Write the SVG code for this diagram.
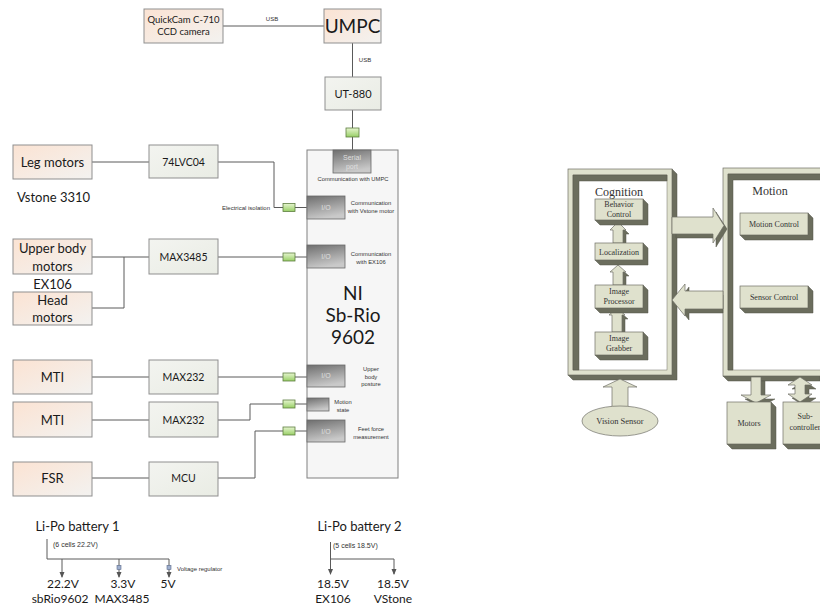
<svg xmlns="http://www.w3.org/2000/svg" width="820" height="607" viewBox="0 0 820 607">
<defs>
<linearGradient id="gPeach" x1="0" y1="0" x2="1" y2="1"><stop offset="0" stop-color="#fbe3d3"/><stop offset="1" stop-color="#f3f2f0"/></linearGradient>
<linearGradient id="gGray" x1="0" y1="0" x2="1" y2="1"><stop offset="0" stop-color="#f3f4f0"/><stop offset="1" stop-color="#e9ece4"/></linearGradient>
<linearGradient id="gGreen" x1="0" y1="0" x2="0" y2="1"><stop offset="0" stop-color="#e6f5cf"/><stop offset="1" stop-color="#98cf66"/></linearGradient>
<linearGradient id="gIO" x1="0" y1="0" x2="0.3" y2="1"><stop offset="0" stop-color="#6e6e6e"/><stop offset="1" stop-color="#c9c9c9"/></linearGradient>
<marker id="ah" viewBox="0 0 6 6" refX="5" refY="3" markerWidth="6" markerHeight="6" orient="auto"><path d="M0,0.5 L6,3 L0,5.5 z" fill="#555"/></marker>
</defs>
<style>
.ln{stroke:#5a5a5a;stroke-width:1;fill:none}
.peach{fill:url(#gPeach);stroke:#8f8f8f;stroke-width:1}
.gray{fill:url(#gGray);stroke:#8f8f8f;stroke-width:1}
.grn{fill:url(#gGreen);stroke:#5e7e40;stroke-width:0.8}
.io{fill:url(#gIO);stroke:#6a6a6a;stroke-width:0.8}
.t{font-family:Lato,"Liberation Sans",sans-serif;fill:#1a1a1a;text-anchor:middle}
.s{font-family:"Liberation Sans",Arial,sans-serif;fill:#333;text-anchor:middle}
.w{font-family:"Liberation Sans",Arial,sans-serif;fill:#dedede;text-anchor:middle;font-size:7px}
.r{font-family:"Liberation Serif","Times New Roman",serif;fill:#333;text-anchor:middle}
.lt{fill:#dfe1cd;stroke:#6f6f66;stroke-width:0.7}
.dk{fill:#6b6d5d;stroke:#55574a;stroke-width:0.5}
.sq{fill:#9fb0cf;stroke:#5a6a8a;stroke-width:0.6}
</style>

<!-- connectors -->
<g id="connectors">
<path class="ln" d="M223,26 H324"/>
<path class="ln" d="M352.5,43 V77"/>
<path class="ln" d="M352.5,110 V150"/>
<path class="ln" d="M92,162 H149"/>
<path class="ln" d="M218,162 H274 V207.5 H307"/>
<path class="ln" d="M92,257 H149"/>
<path class="ln" d="M92,308 H124 V257"/>
<path class="ln" d="M218,257 H307"/>
<path class="ln" d="M92,377 H149"/>
<path class="ln" d="M218,377 H307"/>
<path class="ln" d="M92,420 H149"/>
<path class="ln" d="M218,420 H250 V404 H307"/>
<path class="ln" d="M92,478 H149"/>
<path class="ln" d="M218,478 H255 V431 H307"/>
<!-- battery 1 -->
<path class="ln" d="M47,539 V559 H169"/>
<path class="ln" d="M62,559 V577" marker-end="url(#ah)"/>
<path class="ln" d="M119,559 V577" marker-end="url(#ah)"/>
<path class="ln" d="M169,559 V577" marker-end="url(#ah)"/>
<!-- battery 2 -->
<path class="ln" d="M330.5,542 V574" marker-end="url(#ah)"/>
<path class="ln" d="M330.5,559 H394 V574" marker-end="url(#ah)"/>
</g>

<text class="s" x="272" y="21" font-size="6">USB</text>
<text class="s" x="365" y="62" font-size="6">USB</text>

<g id="quickcam"><rect class="peach" x="144" y="9" width="79" height="34"/><text class="t" x="183.5" y="23" font-size="9.5">QuickCam C-710</text><text class="t" x="183.5" y="35" font-size="9.5">CCD camera</text></g>
<g id="umpc"><rect class="peach" x="324" y="9" width="57" height="34"/><text class="t" x="352.5" y="33" font-size="19">UMPC</text></g>
<g id="ut880"><rect class="gray" x="325" y="77" width="56" height="33"/><text class="t" x="353" y="98" font-size="11">UT-880</text></g>
<g id="iso0"><rect class="grn" x="346" y="128" width="13" height="9"/></g>

<g id="legmotors"><rect class="peach" x="13" y="145" width="79" height="34"/><text class="t" x="52.5" y="167" font-size="13">Leg motors</text></g>
<text class="t" x="53.5" y="202" font-size="13">Vstone 3310</text>
<g id="lvc"><rect class="gray" x="149" y="145" width="69" height="33"/><text class="t" x="183.5" y="165.5" font-size="10.5">74LVC04</text></g>

<g id="upperbody"><rect class="peach" x="13" y="239" width="79" height="35"/><text class="t" x="52.5" y="253" font-size="13">Upper body</text><text class="t" x="52.5" y="271" font-size="13">motors</text></g>
<text class="t" x="52.5" y="289" font-size="13">EX106</text>
<g id="headmotors"><rect class="peach" x="13" y="292" width="79" height="33"/><text class="t" x="52.5" y="305" font-size="13">Head</text><text class="t" x="52.5" y="322" font-size="13">motors</text></g>
<g id="max3485"><rect class="gray" x="149" y="239" width="69" height="35"/><text class="t" x="183.5" y="260.5" font-size="10.5">MAX3485</text></g>

<g id="mti1"><rect class="peach" x="13" y="360" width="79" height="34"/><text class="t" x="52.5" y="382" font-size="13">MTI</text></g>
<g id="max232a"><rect class="gray" x="149" y="360" width="69" height="34"/><text class="t" x="183.5" y="381" font-size="10.5">MAX232</text></g>
<g id="mti2"><rect class="peach" x="13" y="402" width="79" height="35"/><text class="t" x="52.5" y="425" font-size="13">MTI</text></g>
<g id="max232b"><rect class="gray" x="149" y="402" width="69" height="35"/><text class="t" x="183.5" y="424" font-size="10.5">MAX232</text></g>
<g id="fsr"><rect class="peach" x="13" y="462" width="79" height="34"/><text class="t" x="52.5" y="483" font-size="13">FSR</text></g>
<g id="mcu"><rect class="gray" x="149" y="462" width="69" height="34"/><text class="t" x="183.5" y="482" font-size="10.5">MCU</text></g>

<g id="iso"><rect class="grn" x="283" y="203.5" width="12" height="8"/><rect class="grn" x="283" y="253" width="12" height="8"/><rect class="grn" x="283" y="373" width="12" height="8"/><rect class="grn" x="283" y="400" width="12" height="8"/><rect class="grn" x="283" y="427" width="12" height="8"/></g>
<text class="s" x="270" y="209.5" font-size="6" style="text-anchor:end">Electrical isolation</text>

<g id="ni">
<rect x="307" y="150" width="91" height="328" fill="#f6f6f6" stroke="#808080" stroke-width="1"/>
<rect class="io" x="333" y="150" width="38" height="23"/><text class="w" x="352" y="160">Serial</text><text class="w" x="352" y="169">port</text>
<text class="s" x="353" y="181" font-size="5.8">Communication with UMPC</text>
<rect class="io" x="307" y="196" width="38" height="23"/><text class="w" x="326" y="210">I/O</text>
<text class="s" x="371" y="205" font-size="5.8">Communication</text><text class="s" x="371" y="213" font-size="5.8">with Vstone motor</text>
<rect class="io" x="307" y="245" width="38" height="23"/><text class="w" x="326" y="259">I/O</text>
<text class="s" x="371" y="256" font-size="5.8">Communication</text><text class="s" x="371" y="264" font-size="5.8">with EX106</text>
<text class="t" x="353" y="300" font-size="19">NI</text>
<text class="t" x="353" y="322" font-size="19">Sb-Rio</text>
<text class="t" x="353" y="344" font-size="19">9602</text>
<rect class="io" x="307" y="365" width="38" height="22"/><text class="w" x="326" y="378">I/O</text>
<text class="s" x="371" y="371" font-size="5.8">Upper</text><text class="s" x="371" y="378.5" font-size="5.8">body</text><text class="s" x="371" y="386" font-size="5.8">posture</text>
<rect class="io" x="307" y="398" width="22" height="13"/>
<text class="s" x="343" y="403.5" font-size="5.8">Motion</text><text class="s" x="343" y="411.5" font-size="5.8">state</text>
<rect class="io" x="307" y="420" width="38" height="22"/><text class="w" x="326" y="433.5">I/O</text>
<text class="s" x="371" y="431" font-size="5.8">Feet force</text><text class="s" x="371" y="439" font-size="5.8">measurement</text>
</g>

<!-- batteries -->
<g id="battery1">
<text class="t" x="77.5" y="531" font-size="13">Li-Po battery 1</text>
<text class="s" x="53" y="547" font-size="7" style="text-anchor:start">(6 cells 22.2V)</text>
<rect class="sq" x="117" y="565.5" width="4" height="4"/>
<rect class="sq" x="167" y="565.5" width="4" height="4"/>
<text class="s" x="177" y="571" font-size="6" style="text-anchor:start">Voltage regulator</text>
<text class="t" x="63" y="588" font-size="12">22.2V</text>
<text class="t" x="60" y="603" font-size="12">sbRio9602</text>
<text class="t" x="123" y="588" font-size="12">3.3V</text>
<text class="t" x="122" y="603" font-size="12">MAX3485</text>
<text class="t" x="168" y="588" font-size="12">5V</text>
</g>
<g id="battery2">
<text class="t" x="359.5" y="531" font-size="13">Li-Po battery 2</text>
<text class="s" x="333" y="548" font-size="7" style="text-anchor:start">(5 cells 18.5V)</text>
<text class="t" x="333" y="588" font-size="12">18.5V</text>
<text class="t" x="333" y="603" font-size="12">EX106</text>
<text class="t" x="393" y="588" font-size="12">18.5V</text>
<text class="t" x="393" y="603" font-size="12">VStone</text>
</g>

<!-- right diagram -->
<g id="cognition">
<polygon class="dk" points="672,169 677,174 677,380 573,380 568,375 672,375"/>
<rect class="lt" x="568" y="169" width="104" height="206"/>
<rect x="573" y="175" width="94" height="195" fill="#ffffff" stroke="#6f6f66" stroke-width="0.5"/>
<polygon class="dk" points="573,175 667,175 667,181 579,181 579,370 573,370"/>
<text class="r" x="619" y="195.5" font-size="12">Cognition</text>
</g>
<g id="motion">
<polygon class="dk" points="820,376 820,381 728,381 723,376"/>
<rect class="lt" x="723" y="168" width="100" height="208"/>
<rect x="728" y="174" width="95" height="196" fill="#ffffff" stroke="#6f6f66" stroke-width="0.5"/>
<polygon class="dk" points="728,174 823,174 823,180 733,180 733,370 728,370"/>
<text class="r" x="770" y="194.5" font-size="12">Motion</text>
</g>

<g id="arrows3d">
<polygon class="dk" points="621,226 629,234 626,234 626,247 616,247 616,234 613,234"/>
<polygon class="lt" points="618,222 626,230 623,230 623,243 613,243 613,230 610,230"/>
<polygon class="dk" points="621,269 629,276 626,276 626,289 616,289 616,276 613,276"/>
<polygon class="lt" points="618,265 626,272 623,272 623,285 613,285 613,272 610,272"/>
<polygon class="dk" points="620,312 628,319 625,319 625,336 615,336 615,319 612,319"/>
<polygon class="lt" points="617,308 625,315 622,315 622,332 612,332 612,315 609,315"/>
<polygon class="lt" points="620,379 637,387 628,387 628,408 612,408 612,387 603,387"/>
<polygon class="dk" points="676,221 716,221 716,212 727,229 716,247 716,238 676,238"/>
<polygon class="lt" points="672,217 713,217 713,208 724,225.5 713,243 713,234 672,234"/>
<polygon class="dk" points="676,304 689,287 689,295 723,295 723,313 689,313 689,320"/>
<polygon class="lt" points="672,300 685,284 685,291 723,291 723,309 685,309 685,316"/>
<polygon class="dk" points="755,381 765,381 765,399 775,399 760,407 745,399 755,399"/>
<polygon class="lt" points="751,377 761,377 761,395 771,395 756,403 741,395 751,395"/>
<polygon class="dk" points="804,381 816,389 809,389 809,398 816,398 804,406 792,398 799,398 799,389 792,389"/>
<polygon class="lt" points="800,377 812,385 805,385 805,394 812,394 800,402 788,394 795,394 795,385 788,385"/>
</g>

<g id="vision"><ellipse class="lt" cx="620" cy="421" rx="38" ry="15"/><text class="r" x="620" y="424" font-size="8.5">Vision Sensor</text></g>

<g id="behavior">
<polygon class="dk" points="643,199 648,204 648,225 600,225 595,220 643,220"/>
<rect class="lt" x="595" y="199" width="48" height="21"/>
<text class="r" x="619" y="207" font-size="8">Behavior</text><text class="r" x="619" y="217" font-size="8">Control</text>
</g>
<g id="localization">
<polygon class="dk" points="643,243 648,248 648,265 600,265 595,260 643,260"/>
<rect class="lt" x="595" y="243" width="48" height="17"/>
<text class="r" x="619" y="254.5" font-size="8">Localization</text>
</g>
<g id="imageproc">
<polygon class="dk" points="643,285 648,290 648,313 600,313 595,308 643,308"/>
<rect class="lt" x="595" y="285" width="48" height="23"/>
<text class="r" x="619" y="293.5" font-size="8">Image</text><text class="r" x="619" y="304" font-size="8">Processor</text>
</g>
<g id="imagegrab">
<polygon class="dk" points="643,332 648,337 648,360 600,360 595,355 643,355"/>
<rect class="lt" x="595" y="332" width="48" height="23"/>
<text class="r" x="619" y="341" font-size="8">Image</text><text class="r" x="619" y="351" font-size="8">Grabber</text>
</g>
<g id="motioncontrol">
<polygon class="dk" points="808,213 813,218 813,240 745,240 740,235 808,235"/>
<rect class="lt" x="740" y="213" width="68" height="22"/>
<text class="r" x="774" y="227" font-size="8">Motion Control</text>
</g>
<g id="sensorcontrol">
<polygon class="dk" points="808,286 813,291 813,313 745,313 740,308 808,308"/>
<rect class="lt" x="740" y="286" width="68" height="22"/>
<text class="r" x="774" y="300" font-size="8">Sensor Control</text>
</g>
<g id="motors">
<polygon class="dk" points="771,402 776,407 776,449 732,449 727,444 771,444"/>
<rect class="lt" x="727" y="402" width="44" height="42"/>
<text class="r" x="749" y="426" font-size="8">Motors</text>
</g>
<g id="subcontroller">
<polygon class="dk" points="827,402 832,407 832,449 788,449 783,444 827,444"/>
<rect class="lt" x="783" y="402" width="44" height="42"/>
<text class="r" x="805" y="419" font-size="8">Sub-</text><text class="r" x="805" y="430" font-size="8">controller</text>
</g>
</svg>
